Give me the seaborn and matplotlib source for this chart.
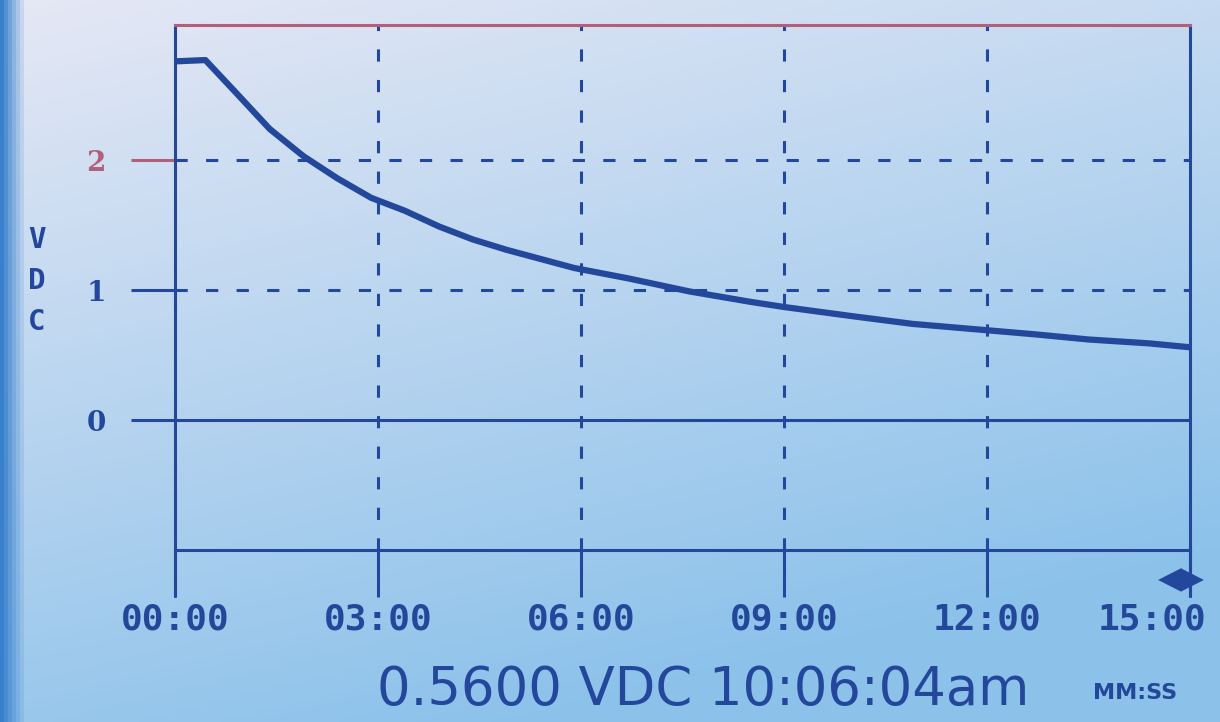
"""
Recreation of an LCD logger screen: VDC decay over 15 minutes.
"""

import numpy as np
import pandas as pd
import matplotlib.pyplot as plt
import matplotlib.transforms as mtransforms
import seaborn as sns

sns.set_theme(style="white")

# ---------- DATA ----------
minutes = [0.0, 0.45, 0.9, 1.4, 1.9, 2.4, 2.9, 3.4, 3.9, 4.4, 4.9, 5.4, 5.9,
           6.7, 7.6, 8.5, 9.0, 10.0, 10.9, 11.8, 12.7, 13.5, 14.4, 15.0]
vdc = [2.76, 2.77, 2.52, 2.24, 2.03, 1.86, 1.71, 1.61, 1.49, 1.39, 1.31, 1.24, 1.17,
       1.09, 0.99, 0.91, 0.87, 0.80, 0.74, 0.70, 0.66, 0.62, 0.59, 0.56]
x_ticks = [0, 3, 6, 9, 12, 15]
x_labels = ["00:00", "03:00", "06:00", "09:00", "12:00", "15:00"]
y_ticks = [0, 1, 2]
y_labels = ["0", "1", "2"]
readout = "0.5600 VDC 10:06:04am"

df = pd.DataFrame({"minutes": minutes, "vdc": vdc})

INK = "#23479a"
PINK = "#b0607a"

fig = plt.figure(figsize=(12.2, 7.22), dpi=100)

# ---------- photo-ish LCD background ----------
bg_ax = fig.add_axes([0, 0, 1, 1], zorder=-1)
h, w = 180, 300
yy, xx = np.mgrid[0:1:h * 1j, 0:1:w * 1j]
top = np.array([0.90, 0.91, 0.96])
bot = np.array([0.55, 0.76, 0.92])
t = np.clip(yy * 0.85 + xx * 0.35, 0, 1)[..., None]
img = top * (1 - t) + bot * t
edge = np.clip(1 - xx / 0.02, 0, 1)[..., None]
img = img * (1 - edge) + np.array([0.22, 0.50, 0.80]) * edge
bg_ax.imshow(img, aspect="auto", extent=[0, 1, 0, 1], origin="upper")
bg_ax.axis("off")

# ---------- chart ----------
ax = fig.add_axes([0.1434, 0.2382, 0.832, 0.7272])
ax.patch.set_alpha(0)
sns.lineplot(data=df, x="minutes", y="vdc", ax=ax, color=INK, linewidth=4.5)

ax.set_xlim(0, 15)
ax.set_ylim(-1, 3.04)

for v in [3, 6, 9, 12]:
    ax.axvline(v, color=INK, linewidth=2.2, linestyle=(0, (4, 6)))
for v in [1, 2]:
    ax.axhline(v, color=INK, linewidth=2.2, linestyle=(0, (4, 6)))
ax.axhline(0, color=INK, linewidth=2.2)

for side in ["left", "bottom", "right"]:
    ax.spines[side].set_color(INK)
    ax.spines[side].set_linewidth(2.2)
ax.spines["top"].set_color(PINK)
ax.spines["top"].set_linewidth(2.2)

ax.set_xticks(x_ticks)
ax.set_xticklabels(x_labels, family="DejaVu Sans Mono", fontweight="bold",
                   fontsize=26, color=INK)
ax.set_yticks(y_ticks)
ax.set_yticklabels(y_labels, family="DejaVu Serif", fontweight="bold",
                   fontsize=20, color=INK)
ax.get_yticklabels()[2].set_color(PINK)
ax.tick_params(axis="x", length=34, width=2.2, color=INK, pad=4, bottom=True)
ax.tick_params(axis="y", length=32, width=2.2, color=INK, pad=18, left=True)
ax.yaxis.get_ticklines()[4].set_markeredgecolor(PINK)
ax.set_xlabel("")
ax.set_ylabel("")

# last time label sits inside the screen edge
last = ax.get_xticklabels()[-1]
last.set_ha("right")
last.set_transform(last.get_transform() + mtransforms.ScaledTranslation(0.16, 0, fig.dpi_scale_trans))

# axis lines run on below the plot frame
ax.plot([0, 0], [-1.35, -1], color=INK, linewidth=2.2, clip_on=False)
ax.plot([15, 15], [-1.35, -1], color=INK, linewidth=2.2, clip_on=False)

# ---------- screen texts ----------
for i, ch in enumerate("VDC"):
    fig.text(0.030, 0.668 - i * 0.057, ch, family="DejaVu Sans Mono",
             fontweight="bold", fontsize=21, color=INK, ha="center", va="center")
fig.text(0.968, 0.197, "◀▶", family="DejaVu Sans", fontsize=22, color=INK,
         ha="center", va="center")
fig.text(0.309, 0.045, readout, family="DejaVu Sans", fontsize=38,
         color=INK, ha="left", va="center")
fig.text(0.930, 0.040, "MM:SS", family="DejaVu Sans", fontweight="bold",
         fontsize=16, color=INK, ha="center", va="center")

fig.savefig("out.png", dpi=100)
